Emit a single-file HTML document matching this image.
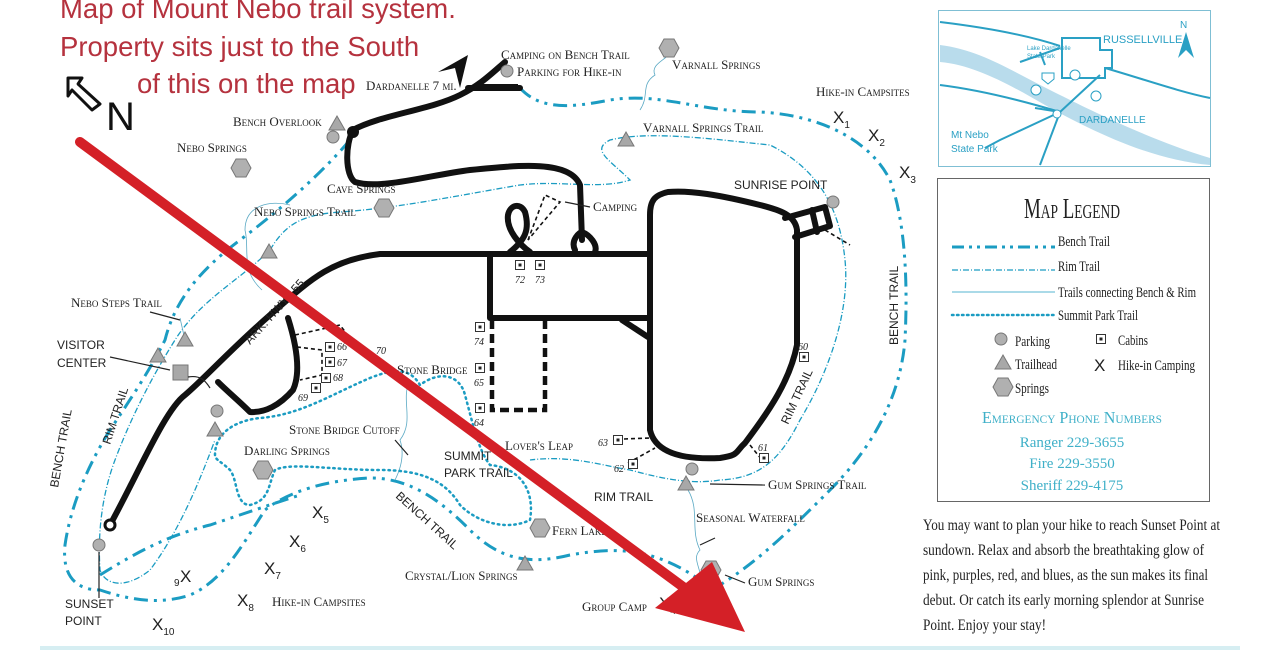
<!DOCTYPE html>
<html><head><meta charset="utf-8"><style>
html,body{margin:0;padding:0;background:#fff;}
svg{display:block;}
.sc{font-family:"Liberation Serif",serif;font-variant:small-caps;font-size:13px;fill:#222;}
.cap{font-family:"Liberation Sans",sans-serif;font-size:12px;fill:#222;}
.sr{font-family:"Liberation Serif",serif;fill:#222;}
.red{font-family:"Liberation Sans",sans-serif;font-size:27.5px;fill:#b5323e;}
.x{font-family:"Liberation Sans",sans-serif;font-size:17px;fill:#222;}
.sub{font-size:10px;}
</style></head><body>
<svg width="1280" height="650" viewBox="0 0 1280 650" xmlns="http://www.w3.org/2000/svg">
<rect width="1280" height="650" fill="#fff"/>
<defs>
<g id="cab"><rect x="-4.5" y="-4.5" width="9" height="9" fill="#fff" stroke="#333" stroke-width="1"/><rect x="-1.5" y="-1.5" width="3" height="3" fill="#222"/></g>
<g id="tri"><polygon points="0,-8 8,6 -8,6" fill="#a8a8a8" stroke="#777" stroke-width="1"/></g>
<g id="hex"><polygon points="-5,-9 5,-9 10,0 5,9 -5,9 -10,0" fill="#b0b0b0" stroke="#777" stroke-width="1"/></g>
<g id="par"><circle r="6" fill="#b0b0b0" stroke="#777" stroke-width="1"/></g>
</defs>

<!-- Bench trail (dash-dot thick) -->
<g fill="none" stroke="#1b9cc2" stroke-width="3" stroke-dasharray="14,6,3,6,3,6">
<path d="M520,88 C540,110 570,108 610,100 C660,92 700,112 760,112 C820,115 870,140 890,180 C905,220 908,280 905,340 C900,400 870,450 830,490 C790,530 760,560 720,585"/>
<path d="M350,140 C320,175 280,210 240,240 C200,270 175,300 165,340 C150,370 130,400 110,430 C85,470 70,510 65,545 C62,575 75,590 100,590 C130,600 160,605 190,595 C225,580 245,540 265,510 C290,490 330,480 370,478 C410,478 440,500 470,530 C500,560 530,565 570,555 C610,548 650,545 700,580"/>
<path d="M100,575 C140,550 170,535 210,525 C240,515 260,508 300,495"/>
</g>
<!-- Rim trail thin dash-dot -->
<g fill="none" stroke="#1b9cc2" stroke-width="1.3" stroke-dasharray="6,2,1,2">
<path d="M270,250 C285,225 300,215 340,212 C400,208 460,195 520,185 C560,180 600,190 630,180 C610,160 590,150 610,140 C650,130 720,140 770,145 C820,170 840,210 845,260 C850,310 830,370 800,420 C780,460 760,478 720,480 C690,485 660,478 630,470 C600,465 570,455 530,460"/>
<path d="M270,250 C240,280 200,300 175,340 C150,380 130,420 115,460 C100,500 98,540 100,570 C105,585 125,590 150,570 C180,530 200,480 215,440"/>
</g>
<!-- connecting trails thin solid -->
<g fill="none" stroke="#5aa9c4" stroke-width="0.8">
<path d="M262,290 C240,270 250,250 245,230 C245,205 270,200 290,205"/>
<path d="M640,110 C650,95 640,85 655,75 C650,65 665,60 668,55"/>
<path d="M688,490 C700,510 690,530 700,550 C690,560 705,570 700,590"/>
<path d="M410,380 C400,400 415,420 400,440 C405,455 400,470 395,480"/>
<path d="M185,340 L180,318"/>
</g>
<!-- summit park trail dotted -->
<g fill="none" stroke="#1b9cc2" stroke-width="2.5" stroke-dasharray="1.5,4" stroke-linecap="round">
<path d="M215,455 C215,430 240,420 260,418 C300,415 330,395 370,378 C395,368 410,368 420,385 C440,370 460,375 465,395 C472,420 478,450 490,465 C520,468 535,490 530,520 C510,530 480,525 460,505 C445,480 420,470 380,470 C330,470 290,462 275,470 C268,485 270,500 250,505 C235,505 238,480 230,470 C222,462 215,460 215,455"/>
</g>

<!-- Roads -->
<g fill="none" stroke="#111" stroke-width="6" stroke-linejoin="round" stroke-linecap="round">
<path d="M110,525 C140,470 165,410 185,395 C205,378 230,350 270,315 C310,280 330,260 380,254 L650,254"/>
<path d="M288,318 C298,350 300,375 293,390 C280,405 265,413 250,412 C238,400 228,392 218,382"/>
<path d="M490,254 L490,318 L650,318"/>
<path d="M622,320 L648,337"/>
<path d="M650,254 L650,430 C655,452 680,460 720,458 C740,455 735,452 745,443 C770,410 790,380 797,345 L797,230 C795,215 780,210 760,205 C720,195 690,190 668,192 C655,195 650,200 650,215 L650,254"/>
<path d="M785,218 L825,207 L830,226 L795,237"/>
<path d="M812,210 L817,232"/>
<path d="M353,130 C345,145 345,175 355,182 C380,190 430,175 470,170 C520,165 570,160 580,185 L582,240"/>
<path d="M353,130 C380,115 430,110 460,95 C480,85 490,75 505,62"/>
<path d="M468,88 L520,88"/>
<path d="M575,250 C570,240 580,232 582,232 C590,235 598,245 595,252"/>
<path d="M510,252 C525,240 530,230 525,212 C520,202 510,205 508,215 C506,230 520,245 530,252"/>
</g>
<circle cx="353" cy="132" r="6" fill="#111"/>
<circle cx="110" cy="525" r="5" fill="#fff" stroke="#111" stroke-width="3"/>
<rect x="478" y="84" width="40" height="7" fill="#111"/>
<polygon points="438,72 468,55 460,88 455,68" fill="#111"/>
<!-- dashed roads -->
<g fill="none" stroke="#111" stroke-width="4.5" stroke-dasharray="9,5">
<path d="M492,320 L492,410 L545,410 L545,320"/>
</g>
<g fill="none" stroke="#111" stroke-width="1.6" stroke-dasharray="4,3">
<path d="M295,335 L340,325 L355,345"/>
<path d="M297,347 L322,350 L322,375 L300,380"/>
<path d="M528,240 L545,195 L560,202 L538,228 Z"/>
<path d="M624,439 L650,438"/><path d="M628,463 L655,448"/>
<path d="M750,445 L762,460"/><path d="M825,230 L850,245"/>
</g>

<!-- cabins -->
<use href="#cab" x="520" y="265"/><use href="#cab" x="540" y="265"/>
<use href="#cab" x="480" y="327"/><use href="#cab" x="480" y="368"/><use href="#cab" x="480" y="408"/>
<use href="#cab" x="330" y="347"/><use href="#cab" x="330" y="362"/><use href="#cab" x="326" y="378"/><use href="#cab" x="316" y="388"/>
<use href="#cab" x="618" y="440"/><use href="#cab" x="633" y="464"/><use href="#cab" x="764" y="458"/><use href="#cab" x="804" y="357"/>
<g class="sr" font-size="10" font-style="italic">
<text x="515" y="283">72</text><text x="535" y="283">73</text><text x="474" y="345">74</text><text x="474" y="386">65</text><text x="474" y="426">64</text>
<text x="337" y="350">66</text><text x="337" y="366">67</text><text x="333" y="381">68</text><text x="298" y="401">69</text><text x="376" y="354">70</text>
<text x="598" y="446">63</text><text x="614" y="472">62</text><text x="758" y="451">61</text><text x="798" y="350">60</text>
</g>

<!-- symbols -->
<use href="#hex" x="669" y="48"/><use href="#hex" x="241" y="168"/><use href="#hex" x="384" y="208"/><use href="#hex" x="263" y="470"/><use href="#hex" x="540" y="528"/><use href="#hex" x="711" y="570"/>
<use href="#tri" x="626" y="140"/><use href="#tri" x="337" y="124"/><use href="#tri" x="269" y="252"/><use href="#tri" x="158" y="356"/><use href="#tri" x="185" y="340"/><use href="#tri" x="215" y="430"/><use href="#tri" x="686" y="484"/><use href="#tri" x="525" y="564"/>
<use href="#par" x="507" y="71"/><use href="#par" x="333" y="137"/><use href="#par" x="833" y="202"/><use href="#par" x="217" y="411"/><use href="#par" x="692" y="469"/><use href="#par" x="99" y="545"/>
<rect x="173" y="365" width="15" height="15" fill="#a8a8a8" stroke="#777"/>
<g stroke="#222" stroke-width="1.2" fill="none">
<path d="M188,377 C200,375 205,380 210,388"/><path d="M110,357 L170,370"/><path d="M150,312 L180,320"/><path d="M565,202 L590,207"/>
<path d="M710,484 L765,485"/><path d="M700,545 L715,538"/><path d="M725,575 L745,583"/><path d="M99,552 L99,598"/><path d="M395,440 L408,455"/>
</g>

<!-- labels -->
<g class="sc">
<text x="366" y="90">Dardanelle 7 mi.</text>
<text x="501" y="59">Camping on Bench Trail</text>
<text x="517" y="76">Parking for Hike-in</text>
<text x="672" y="69">Varnall Springs</text>
<text x="816" y="96">Hike-in Campsites</text>
<text x="643" y="132">Varnall Springs Trail</text>
<text x="233" y="126">Bench Overlook</text>
<text x="177" y="152">Nebo Springs</text>
<text x="327" y="193">Cave Springs</text>
<text x="254" y="216">Nebo Springs Trail</text>
<text x="593" y="211">Camping</text>
<text x="71" y="307">Nebo Steps Trail</text>
<text x="397" y="374">Stone Bridge</text>
<text x="289" y="434">Stone Bridge Cutoff</text>
<text x="244" y="455">Darling Springs</text>
<text x="505" y="450">Lover's Leap</text>
<text x="768" y="489">Gum Springs Trail</text>
<text x="696" y="522">Seasonal Waterfall</text>
<text x="748" y="586">Gum Springs</text>
<text x="582" y="611">Group Camp</text>
<text x="552" y="535">Fern Lake</text>
<text x="405" y="580">Crystal/Lion Springs</text>
<text x="272" y="606">Hike-in Campsites</text>
</g>
<g class="cap">
<text x="734" y="189">SUNRISE POINT</text>
<text x="57" y="349">VISITOR</text><text x="57" y="367">CENTER</text>
<text x="444" y="460">SUMMIT</text><text x="444" y="477">PARK TRAIL</text>
<text x="594" y="501">RIM TRAIL</text>
<text x="65" y="608">SUNSET</text><text x="65" y="625">POINT</text>
<text transform="translate(250,345) rotate(-48)">ARK. HWY 155</text>
<text transform="translate(110,445) rotate(-72)">RIM TRAIL</text>
<text transform="translate(58,488) rotate(-80)">BENCH TRAIL</text>
<text transform="translate(788,425) rotate(-65)">RIM TRAIL</text>
<text transform="translate(898,345) rotate(-90)">BENCH TRAIL</text>
<text transform="translate(395,497) rotate(42)">BENCH TRAIL</text>
</g>
<g class="x">
<text x="833" y="123">X<tspan class="sub" dy="5">1</tspan></text>
<text x="868" y="141">X<tspan class="sub" dy="5">2</tspan></text>
<text x="899" y="178">X<tspan class="sub" dy="5">3</tspan></text>
<text x="659" y="609">X<tspan class="sub" dy="5">4</tspan></text>
<text x="312" y="518">X<tspan class="sub" dy="5">5</tspan></text>
<text x="289" y="547">X<tspan class="sub" dy="5">6</tspan></text>
<text x="264" y="574">X<tspan class="sub" dy="5">7</tspan></text>
<text x="237" y="606">X<tspan class="sub" dy="5">8</tspan></text>
<text x="174" y="586" class="sub">9</text><text x="180" y="582">X</text>
<text x="152" y="630">X<tspan class="sub" dy="5">10</tspan></text>
</g>

<!-- Inset map -->
<rect x="938.5" y="10.5" width="272" height="156" fill="#fff" stroke="#7fbfd4" stroke-width="1"/>
<path d="M940,45 C980,50 1010,70 1050,90 C1090,110 1150,140 1210,158 L1210,165 C1150,160 1090,130 1045,105 C1010,85 975,65 940,62 Z" fill="#b9dcec"/>
<g fill="none" stroke="#2aa0c4" stroke-width="2">
<path d="M940,22 C990,28 1030,36 1060,46"/>
<path d="M1062,38 L1100,38 L1100,50 L1112,50 L1112,68 L1105,68 L1105,78 L1062,78 Z"/>
<path d="M1105,68 C1140,78 1180,92 1210,98"/>
<path d="M940,85 C980,90 1020,100 1060,112 L1100,75"/>
<path d="M1060,112 L1040,165"/><path d="M1060,112 L1035,108"/>
<path d="M1060,112 L1000,140 L985,148"/>
<path d="M1060,48 L1020,62"/><path d="M1040,52 L1045,65"/>
</g>
<g fill="#fff" stroke="#2aa0c4" stroke-width="1"><circle cx="1075" cy="75" r="5"/><circle cx="1036" cy="90" r="5"/><circle cx="1096" cy="96" r="5"/><circle cx="1057" cy="114" r="4"/><path d="M1042,73 h12 v6 l-6,5 l-6,-5 z"/></g>
<g font-family="Liberation Sans,sans-serif" fill="#2aa0c4">
<text x="1103" y="43" font-size="11">RUSSELLVILLE</text>
<text x="1079" y="123" font-size="10">DARDANELLE</text>
<text x="951" y="138" font-size="10">Mt Nebo</text><text x="951" y="152" font-size="10">State Park</text>
<text x="1027" y="50" font-size="6">Lake Dardanelle</text><text x="1027" y="58" font-size="6">State Park</text>
<text x="1180" y="28" font-size="10">N</text>
</g>
<path d="M1186,32 L1178,58 L1186,50 L1194,58 Z" fill="#2aa0c4"/>

<!-- Legend -->
<rect x="937.5" y="178.5" width="272" height="323" fill="#fff" stroke="#666" stroke-width="1"/>
<text x="1072" y="218" text-anchor="middle" class="sr" font-size="28" style="font-variant:small-caps" textLength="96" lengthAdjust="spacingAndGlyphs">Map Legend</text>
<g fill="none" stroke="#1b9cc2">
<path d="M952,247 L1055,247" stroke-width="3" stroke-dasharray="12,5,3,5,3,5"/>
<path d="M952,270 L1055,270" stroke-width="1.3" stroke-dasharray="6,2,1,2"/>
<path d="M952,292 L1055,292" stroke-width="0.8"/>
<path d="M952,315 L1055,315" stroke-width="2.5" stroke-dasharray="1.5,3.5" stroke-linecap="round"/>
</g>
<g class="sr" font-size="15">
<text x="1058" y="246" textLength="52" lengthAdjust="spacingAndGlyphs">Bench Trail</text>
<text x="1058" y="271" textLength="42" lengthAdjust="spacingAndGlyphs">Rim Trail</text>
<text x="1058" y="297" textLength="138" lengthAdjust="spacingAndGlyphs">Trails connecting Bench &amp; Rim</text>
<text x="1058" y="320" textLength="80" lengthAdjust="spacingAndGlyphs">Summit Park Trail</text>
<text x="1015" y="346" textLength="35" lengthAdjust="spacingAndGlyphs">Parking</text>
<text x="1015" y="369" textLength="42" lengthAdjust="spacingAndGlyphs">Trailhead</text>
<text x="1015" y="393" textLength="34" lengthAdjust="spacingAndGlyphs">Springs</text>
<text x="1118" y="345" textLength="30" lengthAdjust="spacingAndGlyphs">Cabins</text>
<text x="1118" y="370" textLength="77" lengthAdjust="spacingAndGlyphs">Hike-in Camping</text>
</g>
<use href="#par" x="1001" y="339"/><use href="#tri" x="1003" y="363"/><use href="#hex" x="1003" y="387"/><use href="#cab" x="1101" y="339"/>
<text x="1094" y="371" class="x" font-size="16">X</text>
<g class="sr" text-anchor="middle">
<text x="1072" y="423" font-size="17" style="font-variant:small-caps;fill:#3fb0c8" textLength="180" lengthAdjust="spacingAndGlyphs">Emergency Phone Numbers</text>
<text x="1072" y="447" font-size="15" style="fill:#3fb0c8">Ranger 229-3655</text>
<text x="1072" y="468" font-size="15" style="fill:#3fb0c8">Fire 229-3550</text>
<text x="1072" y="490" font-size="15" style="fill:#3fb0c8">Sheriff 229-4175</text>
</g>
<g class="sr" font-size="16">
<text x="923" y="530" textLength="297" lengthAdjust="spacingAndGlyphs">You may want to plan your hike to reach Sunset Point at</text>
<text x="923" y="555" textLength="281" lengthAdjust="spacingAndGlyphs">sundown.  Relax and absorb the breathtaking glow of</text>
<text x="923" y="580" textLength="285" lengthAdjust="spacingAndGlyphs">pink, purples, red, and blues, as the sun makes its final</text>
<text x="923" y="605" textLength="281" lengthAdjust="spacingAndGlyphs">debut.  Or catch its early morning splendor at Sunrise</text>
<text x="923" y="630" textLength="123" lengthAdjust="spacingAndGlyphs">Point.  Enjoy your stay!</text>
</g>
<rect x="40" y="646" width="1200" height="4" fill="#d6eef2"/>

<!-- Red title and arrow -->
<text x="60" y="18" class="red">Map of Mount Nebo trail system.</text>
<text x="60" y="56" class="red">Property sits just to the South</text>
<text x="137" y="93" class="red">of this on the map</text>
<path d="M80,142 L690,592" stroke="#d42027" stroke-width="10" stroke-linecap="round"/>
<polygon points="655,608 712,562 745,632" fill="#d42027"/>
<path d="M68,78 L82,78 L78,84 L100,104 L92,110 L72,90 L68,96 Z" fill="#fff" stroke="#111" stroke-width="3" stroke-linejoin="round"/>
<text x="106" y="130" font-family="Liberation Sans,sans-serif" font-size="40" fill="#111">N</text>
</svg>
</body></html>
